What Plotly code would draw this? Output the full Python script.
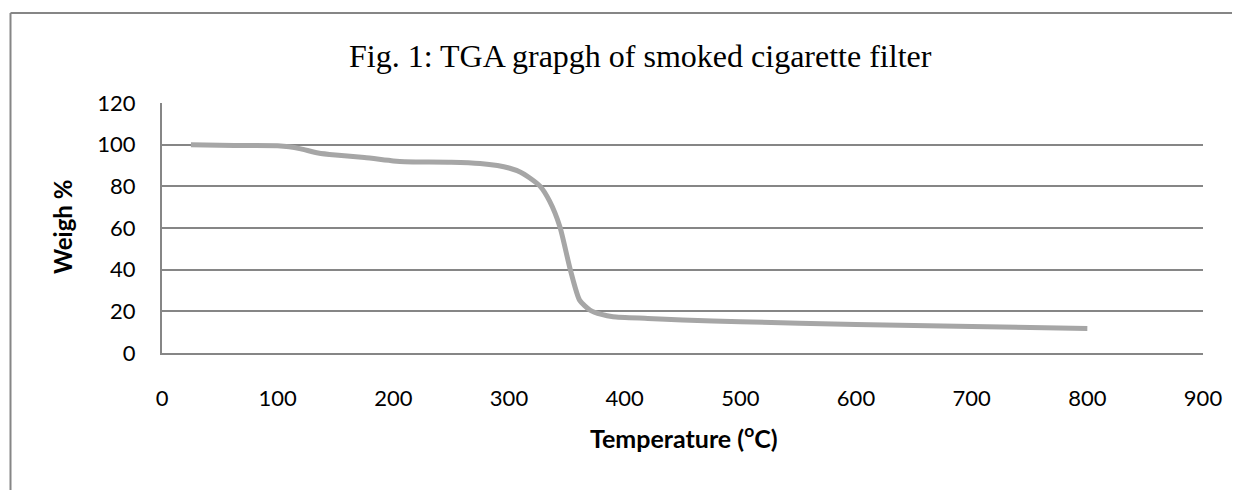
import plotly.graph_objects as go

temperature = [25, 50, 75, 100, 110, 120, 135, 150, 175, 200, 210, 250, 275, 290, 300, 310, 318, 327, 335,
               344, 353, 361, 370, 380, 390, 420, 450, 500, 600, 700, 800]
weight = [100, 99.7, 99.6, 99.5, 99, 98, 96, 95, 93.8, 92.2, 91.8, 91.6, 91, 90, 88.8, 86.8, 84, 80, 73,
          60.6, 40, 25.4, 20.6, 18.5, 17.4, 16.6, 15.8, 15, 13.7, 12.7, 11.8]
x_ticks = [0, 100, 200, 300, 400, 500, 600, 700, 800, 900]
y_ticks = [0, 20, 40, 60, 80, 100, 120]

# page has an 8px body margin; work in page pixels and convert
OFF = 8
W, H = 1240 - OFF, 490 - OFF
L, R, T, B = 162, 1203, 103, 353  # page pixels of plot area
pw, ph = R - L, B - T

def px(x):
    return (x - L) / pw

def py(y):
    return (B - y) / ph

grid = "#868686"
font_sans = "Lato, 'Open Sans', sans-serif"

fig = go.Figure()
fig.add_trace(go.Scatter(x=temperature, y=weight, mode="lines",
                         line=dict(color="#A6A6A6", width=5, shape="spline", smoothing=0.6),
                         hoverinfo="skip", showlegend=False))

fig.update_layout(
    width=W, height=H,
    margin=dict(l=L - OFF, r=W - (R - OFF), t=T - OFF, b=H - (B - OFF), pad=0),
    paper_bgcolor="white", plot_bgcolor="white",
    showlegend=False,
    xaxis=dict(range=[0, 900], tickvals=x_ticks, ticktext=[str(v) for v in x_ticks],
               showgrid=False, zeroline=False, showline=True, linecolor=grid, linewidth=2,
               ticks="", tickfont=dict(family=font_sans, size=22, color="black"),
               ticklabelstandoff=25, fixedrange=True),
    yaxis=dict(range=[0, 120], tickvals=y_ticks, ticktext=[str(v) for v in y_ticks],
               showgrid=True, gridcolor=grid, gridwidth=1.5, zeroline=False,
               showline=True, linecolor=grid, linewidth=2,
               ticks="", tickfont=dict(family=font_sans, size=22, color="black"),
               ticklabelstandoff=20, fixedrange=True),
    annotations=[
        dict(text="Fig. 1: TGA grapgh of smoked cigarette filter", x=px(640), y=py(56),
             xref="paper", yref="paper", showarrow=False, xanchor="center", yanchor="middle",
             font=dict(family="'Liberation Serif', 'Times New Roman', serif", size=32, color="black")),
        dict(text="<b>Weigh %</b>", x=px(62), y=py(227), xref="paper", yref="paper",
             showarrow=False, textangle=-90, xanchor="center", yanchor="middle",
             font=dict(family=font_sans, size=24, color="black")),
        dict(text="<b>Temperature (<sup>o</sup>C)</b>", x=px(684), y=py(436), xref="paper", yref="paper",
             showarrow=False, xanchor="center", yanchor="middle",
             font=dict(family=font_sans, size=25, color="black")),
    ],
    shapes=[
        dict(type="line", xref="paper", yref="paper", x0=px(10.5), x1=px(10.5), y0=py(13), y1=py(520),
             line=dict(color=grid, width=2)),
        dict(type="line", xref="paper", yref="paper", x0=px(10.5), x1=px(1260), y0=py(13), y1=py(13),
             line=dict(color=grid, width=2)),
    ],
)

fig.write_html("out.html")
